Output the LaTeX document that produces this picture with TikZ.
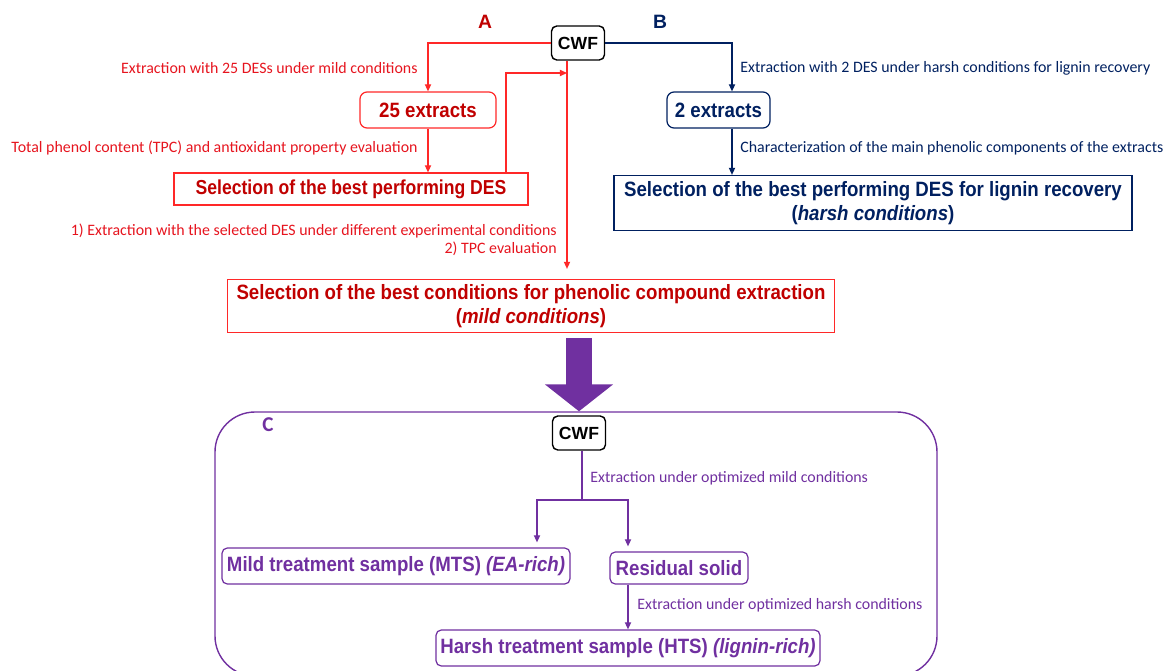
\documentclass[tikz,border=0pt]{standalone}
\usepackage{fontspec}
\setmainfont{Liberation Sans}
\newfontfamily\boxfont[FakeStretch=0.9]{Liberation Sans}
\newfontfamily\desfont[FakeStretch=0.87]{Liberation Sans}
\newfontfamily\lblfont{Carlito}
\definecolor{DarkRed}{RGB}{192,0,0}
\definecolor{LineRed}{RGB}{255,40,40}
\definecolor{LabelRed}{RGB}{230,20,30}
\definecolor{NavyDES}{RGB}{0,32,96}
\definecolor{PurpDES}{RGB}{112,48,160}
\usetikzlibrary{arrows.meta,positioning,calc}

\begin{document}
\begin{tikzpicture}[
    stepbox/.style={draw,font=\boxfont\bfseries\fontsize{11.8}{14}\selectfont,
                    align=center,inner sep=2pt,line width=0.7pt},
    redbox/.style={stepbox,draw=LineRed,text=DarkRed},
    bluebox/.style={stepbox,draw=NavyDES,text=NavyDES},
    purpbox/.style={stepbox,draw=PurpDES,text=PurpDES,rounded corners=3pt},
    cwfbox/.style={draw=black,rounded corners=3pt,line width=0.8pt,
                   font=\bfseries\fontsize{10}{12}\selectfont,
                   minimum width=1.06cm,minimum height=0.68cm,inner sep=1pt},
    title/.style={font=\bfseries\fontsize{11}{13}\selectfont},
    lbl/.style={font=\lblfont\fontsize{9.05}{11}\selectfont,inner sep=0pt},
    tip/.style={-{Triangle[width=3.5pt,length=4pt]}},
    redarr/.style={tip,LineRed,line width=0.7pt},
    bluearr/.style={tip,NavyDES,line width=0.7pt},
    purpline/.style={PurpDES,line width=0.7pt},
    purparr/.style={tip,purpline},
    bigarr/.style={PurpDES,line width=0.52cm,-{Triangle[width=1.34cm,length=0.54cm]}}]
    \useasboundingbox (0,0) rectangle (23.28,-13.42);
    \clip (0,0) rectangle (23.28,-13.42);

    % route A (mild conditions)
    \node[cwfbox] (cwf) at (11.56,-0.86) {CWF};
    \node[title,DarkRed] (labA) at (9.7,-0.44) {A};
    \node[title,NavyDES] (labB) at (13.2,-0.44) {B};
    \node[redbox,rounded corners=4pt,minimum width=2.72cm,minimum height=0.72cm] (ex25) at (8.56,-2.2) {25 extracts};
    \node[redbox,font=\desfont\bfseries\fontsize{11.5}{14}\selectfont,
          minimum width=7.08cm,minimum height=0.64cm] (selDES) at (7.02,-3.78) {Selection of the best performing DES};
    \node[redbox,minimum width=12.14cm,minimum height=1.06cm] (bestcond) at (10.62,-6.12)
        {Selection of the best conditions for phenolic compound extraction\\(\textit{mild conditions})};

    \draw[redarr] (cwf.west) -| (ex25.north);
    \node[lbl,LabelRed,anchor=east] (lblA1) at (8.36,-1.36) {Extraction with 25 DESs under mild conditions};
    \draw[redarr] (ex25.south) -- (ex25.south |- selDES.north);
    \node[lbl,LabelRed,anchor=east] (lblA2) at (8.36,-2.96) {Total phenol content (TPC) and antioxidant property evaluation};
    \coordinate (fbup) at (10.12,-1.46);
    \coordinate (fbin) at (11.34,-1.46);
    \draw[redarr] (selDES.north -| fbup) -- (fbup) -- (fbin);
    \draw[redarr,shorten >=0.2cm] (cwf.south -| fbin) -- (bestcond.north -| fbin);
    \node[lbl,LabelRed,anchor=east] (lblA3) at (11.14,-4.62) {1) Extraction with the selected DES under different experimental conditions};
    \node[lbl,LabelRed,anchor=east] (lblA4) at (11.14,-4.98) {2) TPC evaluation};

    % route B (harsh conditions)
    \node[bluebox,rounded corners=4pt,minimum width=2.06cm,minimum height=0.72cm] (ex2) at (14.37,-2.2) {2 extracts};
    \node[bluebox,minimum width=10.36cm,minimum height=1.1cm] (selLig) at (17.46,-4.06)
        {Selection of the best performing DES for lignin recovery\\(\textit{harsh conditions})};
    \draw[bluearr] (cwf.east) -| ([xshift=0.27cm]ex2.north);
    \node[lbl,NavyDES,anchor=west] (lblB1) at (14.8,-1.36) {Extraction with 2 DES under harsh conditions for lignin recovery};
    \draw[bluearr] ([xshift=0.27cm]ex2.south) -- ([xshift=0.27cm]ex2.south |- selLig.north);
    \node[lbl,NavyDES,anchor=west] (lblB2) at (14.8,-2.96) {Characterization of the main phenolic components of the extracts};

    % route C (sequential)
    \draw[PurpDES,line width=0.8pt,rounded corners=0.8cm] (4.3,-8.24) rectangle (18.74,-13.52);
    \node[title,PurpDES,font=\lblfont\bfseries\fontsize{12}{14}\selectfont] (labC) at (5.36,-8.5) {C};
    \node[cwfbox] (cwf2) at (11.58,-8.66) {CWF};
    \draw[bigarr] ([yshift=-0.1cm]bestcond.south -| cwf2.north) -- ([yshift=0.08cm]cwf2.north);
    \node[purpbox,minimum width=6.96cm,minimum height=0.72cm] (mts) at (7.92,-11.32) {Mild treatment sample (MTS) \textit{(EA-rich)}};
    \node[purpbox,minimum width=2.76cm,minimum height=0.64cm] (resid) at (13.58,-11.36) {Residual solid};
    \node[purpbox,minimum width=7.68cm,minimum height=0.72cm] (hts) at (12.56,-12.96) {Harsh treatment sample (HTS) \textit{(lignin-rich)}};

    \coordinate (split) at (11.64,-10);
    \draw[purpline] (cwf2.south -| split) -- (split);
    \draw[purparr,shorten >=0.1cm] (split) -| ([xshift=2.82cm]mts.north);
    \draw[purparr,shorten >=0.1cm] (split) -| (hts.north |- resid.north);
    \node[lbl,PurpDES,anchor=west] (lblC1) at (11.8,-9.56) {Extraction under optimized mild conditions};
    \draw[purparr] (hts.north |- resid.south) -- (hts.north);
    \node[lbl,PurpDES,anchor=west] (lblC2) at (12.74,-12.1) {Extraction under optimized harsh conditions};
\end{tikzpicture}
\end{document}
